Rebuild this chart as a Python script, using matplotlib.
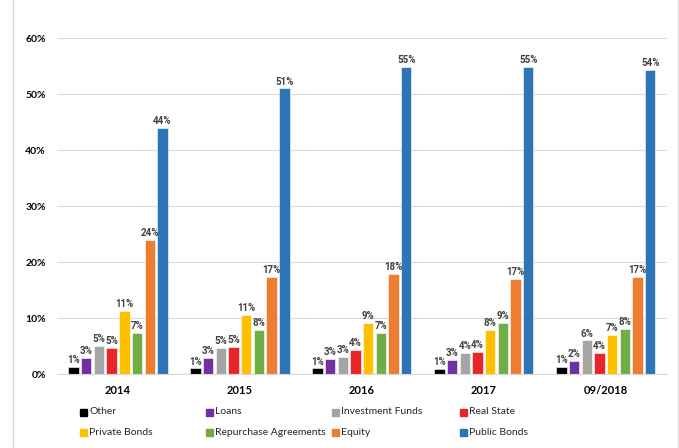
import numpy as np
import matplotlib.pyplot as plt
from matplotlib.patches import Rectangle

periods = ['2014', '2015', '2016', '2017', '09/2018']
series = ['Other', 'Loans', 'Investment Funds', 'Real State',
          'Private Bonds', 'Repurchase Agreements', 'Equity', 'Public Bonds']
colors = ['#000000', '#7030A0', '#A5A5A5', '#E8262A',
          '#FFC000', '#70AD47', '#ED7D31', '#2E75B6']

other = [1.3, 1.0, 1.0, 0.9, 1.3]
loans = [2.9, 2.8, 2.7, 2.6, 2.4]
inv_funds = [5.0, 4.6, 3.0, 3.8, 6.0]
real_state = [4.6, 4.8, 4.3, 3.9, 3.8]
private_bonds = [11.3, 10.6, 9.2, 7.9, 6.9]
repurchase = [7.3, 7.9, 7.4, 9.2, 8.1]
equity = [24.0, 17.4, 17.8, 17.0, 17.3]
public_bonds = [44.0, 51.0, 54.8, 54.8, 54.3]
values = [other, loans, inv_funds, real_state, private_bonds, repurchase, equity, public_bonds]

plt.rcParams['font.family'] = ['Lato', 'DejaVu Sans']

fig = plt.figure(figsize=(6.79, 4.48), dpi=100)
ax = fig.add_axes([0.084, 0.165, 0.898, 0.75])

x = np.arange(len(periods))
slot = 0.104
width = 0.085
for i, (name, vals, c) in enumerate(zip(series, values, colors)):
    pos = x + (i - 3.5) * slot
    bars = ax.bar(pos, vals, width, color=c, edgecolor='white', linewidth=0.4, label=name)
    for b, v in zip(bars, vals):
        ax.text(b.get_x() + b.get_width() / 2, v + 0.35, f'{round(v)}%',
                ha='center', va='bottom', fontsize=7, fontweight='bold', color='#404040',
                family=['Roboto', 'Lato'])

ax.set_xlim(-0.5, len(periods) - 0.5)
ax.set_ylim(0, 60)
ax.set_yticks(range(0, 61, 10))
ax.set_yticklabels([f'{t}%' for t in range(0, 61, 10)], fontsize=7.5, fontweight='bold')
ax.set_xticks(x)
ax.set_xticklabels(periods, fontsize=8, fontweight='bold')
ax.tick_params(axis='both', length=0, pad=8)
ax.grid(axis='y', color='#D9D9D9', linewidth=0.8)
ax.set_axisbelow(True)
for s in ['top', 'right', 'left']:
    ax.spines[s].set_visible(False)
ax.spines['bottom'].set_color('#D9D9D9')

# legend laid out as a 4 x 2 grid
col_x = [80, 206, 332, 460]
row_y = [412, 432]
for i, (name, c) in enumerate(zip(series, colors)):
    px = col_x[i % 4] / 679
    py = 1 - row_y[i // 4] / 448
    fig.patches.append(Rectangle((px, py - 3.5 / 448), 7 / 679, 7 / 448,
                                 transform=fig.transFigure, color=c))
    fig.text(px + 9 / 679, py, name, fontsize=7.5, va='center', ha='left', color='#262626')

# outer chart frame
fig.patches.append(Rectangle((13 / 679, -0.01), 665 / 679, 1.02, transform=fig.transFigure,
                             fill=False, edgecolor='#D9D9D9', linewidth=1))

fig.savefig('out.png', dpi=100)
